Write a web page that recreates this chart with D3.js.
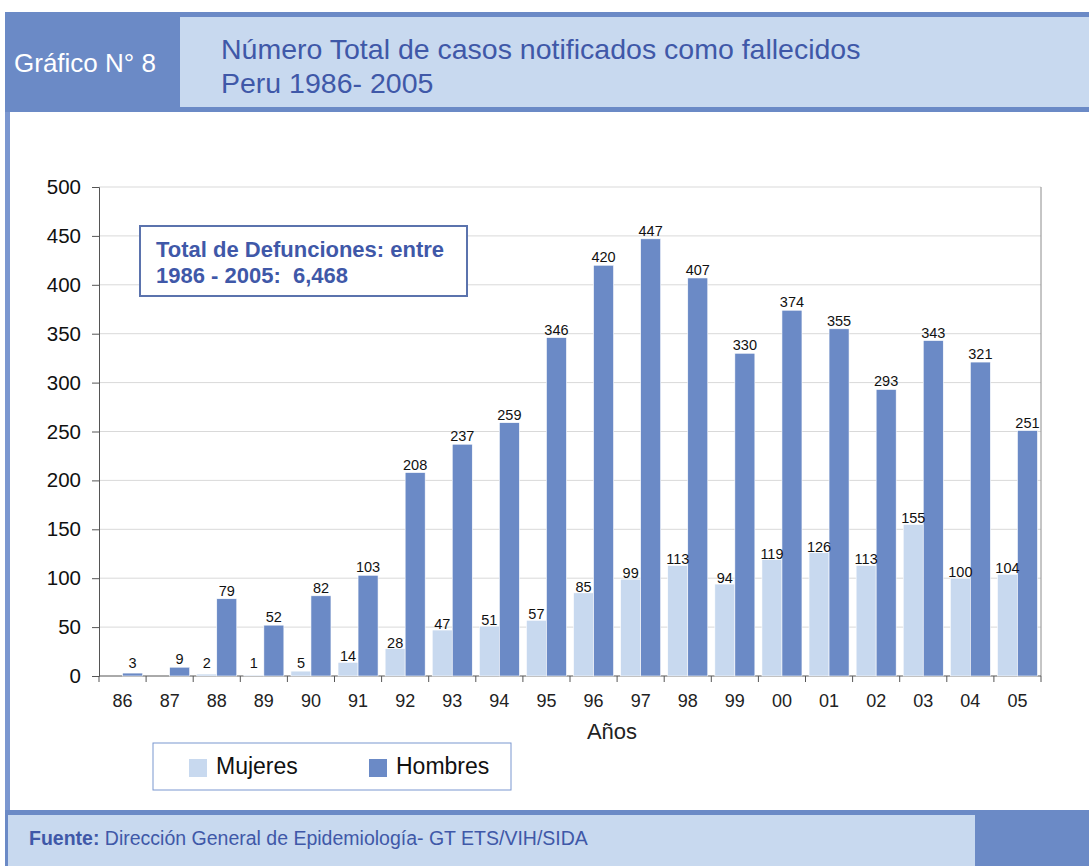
<!DOCTYPE html>
<html>
<head>
<meta charset="utf-8">
<script src="https://cdn.jsdelivr.net/npm/d3@7"></script>
<style>
  body { margin: 0; background: #fff; }
  text { font-family: Arial, "Liberation Sans", sans-serif; }
</style>
</head>
<body>
<svg id="chart" width="1089" height="866"></svg>
<script>
// years shown on the x axis
var years = ["86", "87", "88", "89", "90", "91", "92", "93", "94", "95",
             "96", "97", "98", "99", "00", "01", "02", "03", "04", "05"];
// deaths, women (no value shown for 86 and 87)
var mujeres = [null, null, 2, 1, 5, 14, 28, 47, 51, 57,
               85, 99, 113, 94, 119, 126, 113, 155, 100, 104];
// deaths, men
var hombres = [3, 9, 79, 52, 82, 103, 208, 237, 259, 346,
               420, 447, 407, 330, 374, 355, 293, 343, 321, 251];
var yTicks = [0, 50, 100, 150, 200, 250, 300, 350, 400, 450, 500];
var series = ["Mujeres", "Hombres"];

var dark = "#6b8ac6", light = "#c8d9ef", ink = "#3f58a8";

var svg = d3.select("#chart");

// frame / header
svg.append("rect").attr("x", 5).attr("y", 12).attr("width", 1084).attr("height", 100).attr("fill", dark);
svg.append("rect").attr("x", 180).attr("y", 17).attr("width", 909).attr("height", 90).attr("fill", light);
svg.append("rect").attr("x", 5).attr("y", 112).attr("width", 5).attr("height", 698).attr("fill", "#7b97d0");
svg.append("rect").attr("x", 5).attr("y", 810).attr("width", 1084).attr("height", 56).attr("fill", dark);
svg.append("rect").attr("x", 8).attr("y", 815).attr("width", 967).attr("height", 51).attr("fill", light);

svg.append("text").attr("x", 14).attr("y", 72).attr("fill", "#fff")
	.style("font-size", "26px").text("Gráfico N° 8");
svg.append("text").attr("x", 221).attr("y", 59).attr("fill", ink)
	.style("font-size", "28.5px").text("Número Total de casos notificados como fallecidos");
svg.append("text").attr("x", 221).attr("y", 93).attr("fill", ink)
	.style("font-size", "28.5px").text("Peru 1986- 2005");

var foot = svg.append("text").attr("x", 29).attr("y", 845).attr("fill", ink).style("font-size", "19.5px");
foot.append("tspan").style("font-weight", "bold").text("Fuente:");
foot.append("tspan").text(" Dirección General de Epidemiología- GT ETS/VIH/SIDA");

// scales
var x0 = d3.scaleBand().domain(years).range([99, 1041]).paddingInner(0.15).paddingOuter(0.075);
var x1 = d3.scaleBand().domain(series).range([0, x0.bandwidth()]);
var y = d3.scaleLinear().domain([0, 500]).range([676, 187]);

var plot = svg.append("g");

// gridlines
plot.selectAll(".grid").data(yTicks.slice(1)).enter().append("line")
	.attr("x1", 99).attr("x2", 1041)
	.attr("y1", function(d) { return y(d); }).attr("y2", function(d) { return y(d); })
	.attr("stroke", "#d9d9d9").attr("stroke-width", 1);
plot.append("line").attr("x1", 1041).attr("x2", 1041).attr("y1", y(500)).attr("y2", y(0))
	.attr("stroke", "#8c8c8c");

// y axis
var yAxis = plot.append("g").attr("transform", "translate(99,0)")
	.call(d3.axisLeft(y).tickValues(yTicks).tickSize(7).tickPadding(11));
yAxis.selectAll("text").style("font-size", "20.5px").attr("fill", "#111");
yAxis.selectAll("line, path").attr("stroke", "#555");

// x axis: ticks between categories
var xAxis = plot.append("g").attr("transform", "translate(0," + y(0) + ")");
xAxis.append("line").attr("x1", 99).attr("x2", 1041).attr("stroke", "#555");
var bounds = years.map(function(d) { return x0(d) - x0.step() * x0.paddingInner() / 2; });
bounds.push(1041);
xAxis.selectAll(".tk").data(bounds).enter().append("line")
	.attr("x1", function(d) { return d; }).attr("x2", function(d) { return d; })
	.attr("y1", 0).attr("y2", 6).attr("stroke", "#555");
xAxis.selectAll(".lbl").data(years).enter().append("text")
	.attr("x", function(d) { return x0(d) + x0.bandwidth() / 2; })
	.attr("y", 30.5).attr("text-anchor", "middle").attr("fill", "#222")
	.style("font-size", "18px").text(function(d) { return d; });

svg.append("text").attr("x", 612).attr("y", 739).attr("text-anchor", "middle")
	.attr("fill", "#222").style("font-size", "22px").text("Años");

// bars
var rows = years.map(function(d, i) {
	return { year: d, vals: [{ s: "Mujeres", v: mujeres[i] }, { s: "Hombres", v: hombres[i] }] };
});
var groups = plot.selectAll(".yr").data(rows).enter().append("g")
	.attr("transform", function(d) { return "translate(" + x0(d.year) + ",0)"; });

groups.selectAll("rect").data(function(d) { return d.vals.filter(function(e) { return e.v !== null; }); })
	.enter().append("rect")
	.attr("x", function(d) { return x1(d.s); })
	.attr("width", x1.bandwidth())
	.attr("y", function(d) { return y(d.v); })
	.attr("height", function(d) { return y(0) - y(d.v); })
	.attr("fill", function(d) { return d.s === "Mujeres" ? light : dark; })
	.attr("stroke", "#fff").attr("stroke-width", 0.6);

groups.selectAll(".val").data(function(d) { return d.vals.filter(function(e) { return e.v !== null; }); })
	.enter().append("text")
	.attr("x", function(d) { return x1(d.s) + x1.bandwidth() / 2; })
	.attr("y", function(d) { return Math.min(y(d.v) - (d.s === "Mujeres" ? 1 : 3), y(0) - 8); })
	.attr("text-anchor", "middle").attr("fill", "#111")
	.style("font-size", "14.5px").text(function(d) { return d.v; });

// annotation box
svg.append("rect").attr("x", 140).attr("y", 226).attr("width", 327).attr("height", 70)
	.attr("fill", "#fff").attr("stroke", "#5b73ad").attr("stroke-width", 2);
svg.append("text").attr("x", 156).attr("y", 256.5).attr("fill", ink)
	.style("font-size", "22px").style("font-weight", "bold").text("Total de Defunciones: entre");
svg.append("text").attr("x", 156).attr("y", 283).attr("fill", ink)
	.style("font-size", "22px").style("font-weight", "bold").style("white-space", "pre")
	.text("1986 - 2005:  6,468");

// legend
var leg = svg.append("g");
leg.append("rect").attr("x", 153).attr("y", 743).attr("width", 358).attr("height", 47)
	.attr("fill", "#fff").attr("stroke", "#7b97d0").attr("stroke-width", 1);
var legX = [189, 369];
leg.selectAll(".sw").data(series).enter().append("rect")
	.attr("x", function(d, i) { return legX[i]; }).attr("y", 759)
	.attr("width", 18).attr("height", 18)
	.attr("fill", function(d) { return d === "Mujeres" ? light : dark; });
leg.selectAll(".lt").data(series).enter().append("text")
	.attr("x", function(d, i) { return legX[i] + 27; }).attr("y", 774)
	.attr("fill", "#111").style("font-size", "23px").text(function(d) { return d; });
</script>
</body>
</html>
